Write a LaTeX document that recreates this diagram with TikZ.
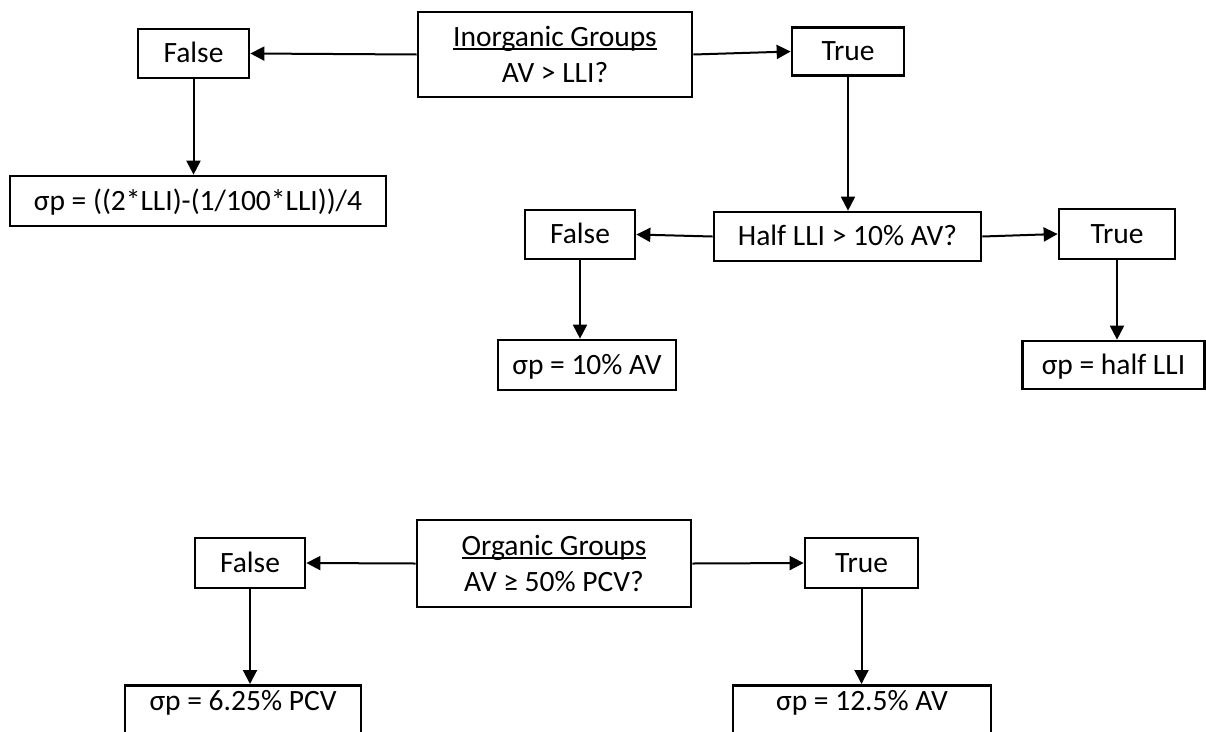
\documentclass[tikz,border=0pt]{standalone}
\usepackage{fontspec}
\setmainfont{Carlito}
\usetikzlibrary{arrows.meta}
\newcommand{\ulx}[1]{\setbox0\hbox{#1}\rlap{\rule[-3.5pt]{\wd0}{1.8pt}}\box0}
\tikzset{
  box/.style={draw, line width=2.7pt, inner sep=0pt, anchor=center,
    font=\fontsize{29.5}{36}\selectfont, text height=18.8pt, text depth=0pt},
  box2/.style={draw, line width=2.7pt, inner sep=0pt, anchor=center,
    font=\fontsize{29.5}{36}\selectfont, align=center},
  cutbox/.style={draw, line width=2.7pt, inner sep=0pt, anchor=north,
    font=\fontsize{29.5}{36}\selectfont, text height=25pt, text depth=25pt},
  arr/.style={line width=2pt, -{Triangle[length=14pt,width=14pt]}},
}
\begin{document}
\begin{tikzpicture}[x=1pt,y=-1pt]
\useasboundingbox (0,0) rectangle (1206,731);
\clip (0,0) rectangle (1206,731);
% top tree
\node[box2, minimum width=274, minimum height=85] (inorg) at (555,54.5) {\ulx{Inorganic Groups}\\AV > LLI?};
\node[box, minimum width=111, minimum height=49] (f1) at (193.5,53.5) {False};
\node[box, minimum width=112, minimum height=48] (t1) at (848,51.5) {True};
\node[box, minimum width=376, minimum height=50] (form) at (198,201) {σp = ((2*LLI)-(1/100*LLI))/4};
\node[box, minimum width=267, minimum height=49] (half) at (847.5,236.5) {Half LLI > 10\% AV?};
\node[box, minimum width=110, minimum height=49] (f2) at (580,234.5) {False};
\node[box, minimum width=116, minimum height=50] (t2) at (1117,234) {True};
\node[box, minimum width=178, minimum height=50] (ten) at (587,365) {σp = 10\% AV};
\node[box, minimum width=182, minimum height=48] (hl) at (1113.5,365) {σp = half LLI};
\draw[arr] (inorg.west) -- (f1.east);
\draw[arr] (inorg.east) -- (t1.west);
\draw[arr] (f1.south) -- (f1.south |- form.north);
\draw[arr] (t1.south) -- (t1.south |- half.north);
\draw[arr] (half.west) -- (f2.east);
\draw[arr] (half.east) -- (t2.west);
\draw[arr] (f2.south) -- (f2.south |- ten.north);
\draw[arr] (t2.south) -- (t2.south |- hl.north);
% bottom tree
\node[box2, minimum width=274, minimum height=87] (org) at (554,563.5) {\ulx{Organic Groups}\\AV ≥ 50\% PCV?};
\node[box, minimum width=110, minimum height=50] (f3) at (250,563) {False};
\node[box, minimum width=113, minimum height=50] (t3) at (861.5,563) {True};
\node[cutbox, minimum width=236] (p625) at (243,684) {σp = 6.25\% PCV};
\node[cutbox, minimum width=258] (p125) at (862,684) {σp = 12.5\% AV};
\draw[arr] (org.west) -- (f3.east);
\draw[arr] (org.east) -- (t3.west);
\draw[arr] (f3.south) -- (f3.south |- p625.north);
\draw[arr] (t3.south) -- (t3.south |- p125.north);
\end{tikzpicture}
\end{document}
